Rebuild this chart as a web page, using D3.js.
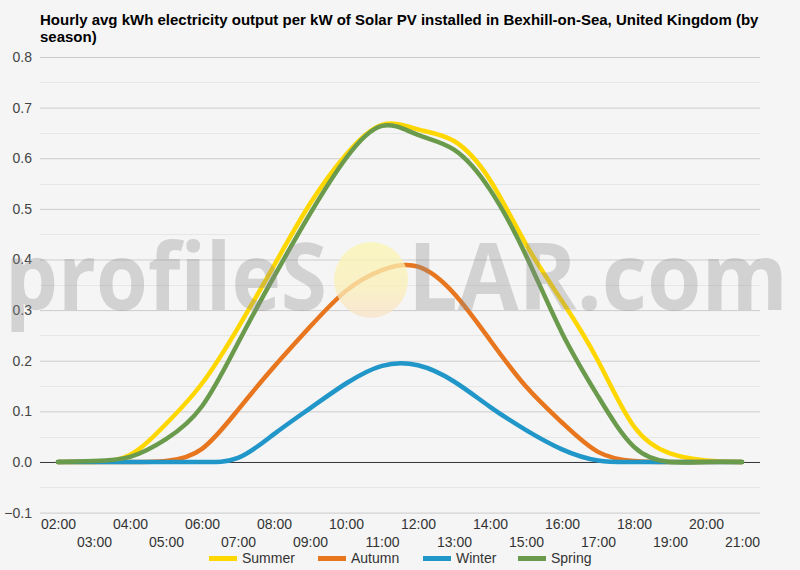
<!DOCTYPE html>
<html>
<head>
<meta charset="utf-8">
<script src="https://cdn.jsdelivr.net/npm/d3@7"></script>
<style>
  html, body { margin: 0; padding: 0; background: #f5f5f5; }
  svg { display: block; font-family: "Liberation Sans", Arial, sans-serif; }
</style>
</head>
<body>
<svg id="chart" width="800" height="570"></svg>
<script>
const hours = ["02:00","03:00","04:00","05:00","06:00","07:00","08:00","09:00","10:00","11:00",
               "12:00","13:00","14:00","15:00","16:00","17:00","18:00","19:00","20:00","21:00"];
const summer = [0, 0, 0.014, 0.075, 0.155, 0.265, 0.388, 0.51, 0.607, 0.666, 0.657, 0.634, 0.557, 0.43, 0.318, 0.2, 0.07, 0.017, 0.003, 0];
const autumn = [0, 0, 0, 0.002, 0.026, 0.103, 0.188, 0.267, 0.338, 0.379, 0.386, 0.333, 0.241, 0.149, 0.078, 0.02, 0.002, 0, 0, 0];
const winter = [0, 0, 0, 0, 0, 0.008, 0.055, 0.106, 0.155, 0.19, 0.191, 0.159, 0.109, 0.063, 0.025, 0.003, 0, 0, 0, 0];
const spring = [0, 0.002, 0.01, 0.045, 0.11, 0.235, 0.366, 0.49, 0.60, 0.664, 0.646, 0.617, 0.538, 0.408, 0.255, 0.13, 0.03, 0, 0, 0];
const seriesNames = ["Summer", "Autumn", "Winter", "Spring"];
const seriesColors = ["#ffd700", "#e8761e", "#2196c8", "#6a9a4b"];
const yTicks = [-0.1, 0, 0.1, 0.2, 0.3, 0.4, 0.5, 0.6, 0.7, 0.8];
const titleLines = ["Hourly avg kWh electricity output per kW of Solar PV installed in Bexhill-on-Sea, United Kingdom (by", "season)"];

(function () {
const seriesData = [summer, autumn, winter, spring];
const svg = d3.select("#chart");
const W = 800, H = 570;
svg.append("rect").attr("width", W).attr("height", H).attr("fill", "#f5f5f5");

const pLeft = 40, pRight = 760, pTop = 57, pBottom = 512.6;
const x = d3.scalePoint().domain(hours).range([pLeft, pRight]).padding(0.5);
const y = d3.scaleLinear().domain([-0.1, 0.8]).range([pBottom, pTop]);

// title
svg.append("text").attr("x", 40).attr("y", 25)
  .attr("font-size", 15).attr("font-weight", "bold").attr("fill", "#000")
  .selectAll("tspan").data(titleLines).join("tspan")
  .attr("x", 40).attr("dy", (d, i) => i === 0 ? 0 : 17).text(d => d);

// minor gridlines
const minor = d3.range(-0.05, 0.8, 0.1);
svg.append("g").selectAll("line").data(minor).join("line")
  .attr("x1", pLeft).attr("x2", pRight)
  .attr("y1", d => Math.round(y(d)) + 0.5).attr("y2", d => Math.round(y(d)) + 0.5)
  .attr("stroke", "#e6e6e6").attr("stroke-width", 1);

// y axis with major gridlines
const yAxis = d3.axisLeft(y).tickValues(yTicks).tickSize(-(pRight - pLeft)).tickFormat(d3.format(".1f"));
const gy = svg.append("g").attr("transform", `translate(${pLeft},0)`).call(yAxis);
gy.select(".domain").remove();
gy.selectAll(".tick line").attr("stroke", d => Math.abs(d) < 1e-9 ? "#333" : "#cccccc");
gy.selectAll(".tick text").attr("x", -8).attr("font-size", 14).attr("fill", "#444")
  .attr("font-family", "Liberation Sans, Arial, sans-serif");

// x axis
const xAxis = d3.axisBottom(x).tickSize(0);
const gx = svg.append("g").attr("transform", `translate(0,${pBottom})`).call(xAxis);
gx.select(".domain").remove();
gx.selectAll(".tick text")
  .attr("font-size", 14).attr("fill", "#333")
  .attr("font-family", "Liberation Sans, Arial, sans-serif")
  .attr("dy", null)
  .attr("y", (d, i) => i % 2 === 0 ? 16 : 34);

// lines
const line = d3.line()
  .x((d, i) => x(hours[i]))
  .y(d => y(d))
  .curve(d3.curveNatural);
svg.append("g").selectAll("path").data(seriesData).join("path")
  .attr("d", d => line(d))
  .attr("fill", "none")
  .attr("stroke", (d, i) => seriesColors[i])
  .attr("stroke-width", 4.5)
  .attr("stroke-linejoin", "round")
  .attr("stroke-linecap", "round");

// watermark
const defs = svg.append("defs");
const grad = defs.append("linearGradient").attr("id", "sun").attr("x1", 0).attr("y1", 0).attr("x2", 0).attr("y2", 1);
grad.append("stop").attr("offset", "0%").attr("stop-color", "#fbf6b0");
grad.append("stop").attr("offset", "60%").attr("stop-color", "#fbefb8");
grad.append("stop").attr("offset", "100%").attr("stop-color", "#f8e2c8");
const wm = svg.append("g").attr("pointer-events", "none");
wm.append("ellipse").attr("cx", 371).attr("cy", 280).attr("rx", 37).attr("ry", 38)
  .attr("fill", "url(#sun)").attr("opacity", 0.75);
wm.append("text").attr("x", 5).attr("y", 310)
  .attr("font-family", "Open Sans, sans-serif").attr("font-weight", 700)
  .attr("font-size", 94).attr("fill", "#8c8c8c").attr("opacity", 0.33)
  .attr("textLength", 322).attr("lengthAdjust", "spacingAndGlyphs")
  .text("profileS");
wm.append("text").attr("x", 408).attr("y", 310)
  .attr("font-family", "Open Sans, sans-serif").attr("font-weight", 700)
  .attr("font-size", 94).attr("fill", "#8c8c8c").attr("opacity", 0.33)
  .attr("textLength", 380).attr("lengthAdjust", "spacingAndGlyphs")
  .text("LAR.com");

// legend
const legendX = [209, 318, 423, 518];
const lg = svg.append("g").selectAll("g").data(seriesNames).join("g")
  .attr("transform", (d, i) => `translate(${legendX[i]},0)`);
lg.append("rect").attr("x", 0).attr("y", 556).attr("width", 28).attr("height", 5)
  .attr("fill", (d, i) => seriesColors[i]);
lg.append("text").attr("x", 33).attr("y", 563).attr("font-size", 14).attr("fill", "#333")
  .text(d => d);
})();
</script>
</body>
</html>
